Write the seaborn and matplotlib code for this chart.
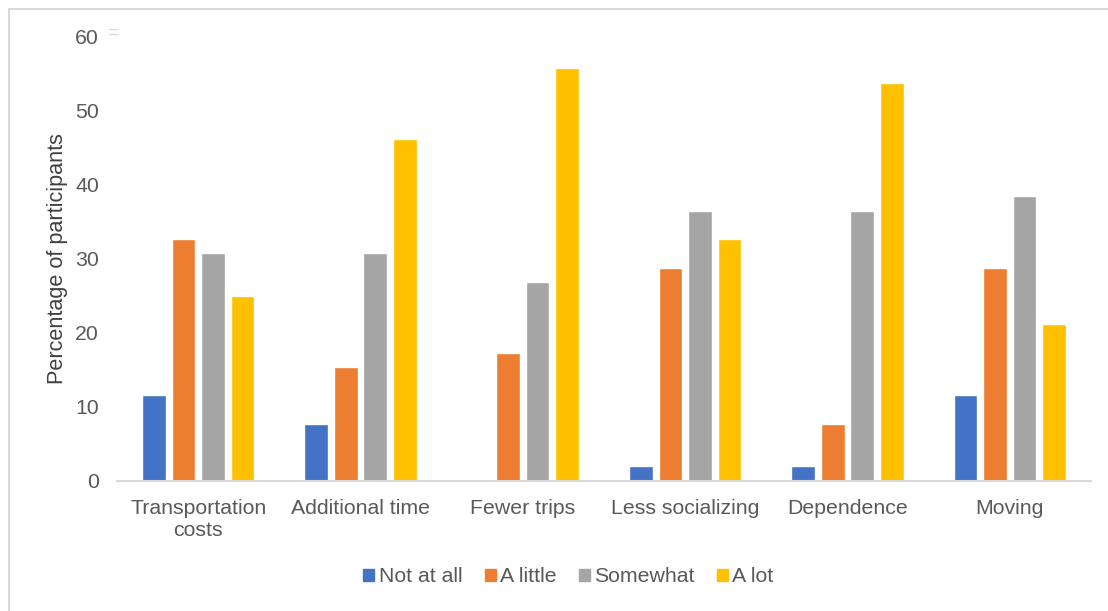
import matplotlib
matplotlib.use("Agg")
import matplotlib.pyplot as plt
from matplotlib.lines import Line2D
import seaborn as sns
import pandas as pd

categories = ["Transportation\ncosts", "Additional time", "Fewer trips",
              "Less socializing", "Dependence", "Moving"]
series_names = ["Not at all", "A little", "Somewhat", "A lot"]
not_at_all = [11.5, 7.7, 0.0, 1.9, 1.9, 11.5]
a_little = [32.7, 15.4, 17.3, 28.8, 7.7, 28.8]
somewhat = [30.8, 30.8, 26.9, 36.5, 36.5, 38.5]
a_lot = [25.0, 46.2, 55.8, 32.7, 53.8, 21.2]
colors = ["#4472C4", "#ED7D31", "#A5A5A5", "#FFC000"]
yticks = [0, 10, 20, 30, 40, 50, 60]

rows = []
for name, vals in zip(series_names, [not_at_all, a_little, somewhat, a_lot]):
    for c, v in zip(categories, vals):
        rows.append({"category": c, "response": name, "value": v})
df = pd.DataFrame(rows)

sns.set_theme(style="white")
plt.rcParams["font.family"] = ["Liberation Sans", "DejaVu Sans"]

fig = plt.figure(figsize=(11.08, 6.11), dpi=100)
ax = fig.add_axes([117 / 1108, 1 - 480.5 / 611, (1091 - 117) / 1108, (480.5 - 37) / 611])

sns.barplot(data=df, x="category", y="value", hue="response",
            order=categories, hue_order=series_names,
            palette=colors, width=0.73, gap=0.2, saturation=1,
            errorbar=None, ax=ax, legend=False)

ax.set_ylim(0, 60)
ax.set_xlim(-0.5, len(categories) - 0.5)
ax.set_yticks(yticks)
ax.set_yticklabels([str(t) for t in yticks])
ax.set_xlabel("")
ax.set_ylabel("Percentage of participants", fontsize=15.6, color="#404040", labelpad=5)
ax.tick_params(axis="both", length=0, labelsize=15.3, colors="#595959")
ax.tick_params(axis="y", pad=13)
ax.tick_params(axis="x", pad=13)
for s in ["top", "right", "left"]:
    ax.spines[s].set_visible(False)
ax.spines["bottom"].set_color("#D9D9D9")
ax.spines["bottom"].set_linewidth(1.5)

handles = [plt.Rectangle((0, 0), 1, 1, color=c) for c in colors]
fig.legend(handles, series_names, loc="center", bbox_to_anchor=(568.5 / 1108, 1 - 577 / 611),
           ncol=4, frameon=False, fontsize=15.3, handlelength=0.52, handleheight=0.52,
           handletextpad=0.2, columnspacing=1.05, labelcolor="#595959",
           borderpad=0, borderaxespad=0)

# outer border (left and top)
fig.add_artist(Line2D([9 / 1108, 9 / 1108], [0, 1 - 8.5 / 611], color="#D9D9D9", lw=1.5,
                      transform=fig.transFigure))
fig.add_artist(Line2D([9 / 1108, 1], [1 - 8.5 / 611, 1 - 8.5 / 611], color="#D9D9D9", lw=1.5,
                      transform=fig.transFigure))
fig.text(114 / 1108, 1 - 33.5 / 611, "=", fontsize=14, color="#D9D9D9", ha="center", va="center")

fig.savefig("out.png", dpi=100)
